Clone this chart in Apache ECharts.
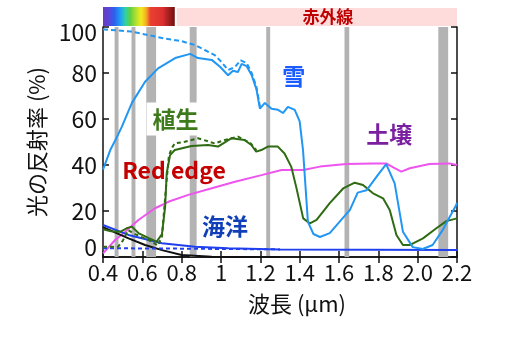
<!DOCTYPE html>
<html><head><meta charset="utf-8">
<script src="https://cdn.jsdelivr.net/npm/echarts@6/dist/echarts.min.js"></script>
<style>html,body{margin:0;padding:0;background:#fff}#c{width:508px;height:340px}</style>
</head><body><div id="c"></div>
<script>
// ---- data ----
const xTickValues = [0.4,0.6,0.8,1.0,1.2,1.4,1.6,1.8,2.0,2.2];
const xTickLabels = ['0.4','0.6','0.8','1','1.2','1.4','1.6','1.8','2.0','2.2'];
const yTickLabels = ['0','20','40','60','80','100'];
const bands = [[0.459,0.479],[0.545,0.565],[0.620,0.670],[0.841,0.876],[1.230,1.250],[1.628,1.652],[2.105,2.155]];
const snowSolid = [[0.40,38],[0.437,46.5],[0.47,52],[0.496,56.7],[0.547,67],[0.614,76.2],[0.68,82],[0.767,86.5],[0.843,88.3],[0.883,86.5],[0.953,85.7],[0.995,82.7],[1.036,79],[1.061,81],[1.086,80.4],[1.105,84],[1.13,83],[1.156,79],[1.18,73],[1.198,64.5],[1.206,64],[1.223,67],[1.257,64.5],[1.29,64],[1.315,62.6],[1.34,65.3],[1.375,64],[1.40,59],[1.417,46.5],[1.442,15.3],[1.47,10],[1.503,8.7],[1.553,10.4],[1.62,17],[1.655,20.4],[1.695,28],[1.74,29],[1.797,35.6],[1.84,40.4],[1.883,32],[1.925,11],[1.975,4.3],[2.026,3.5],[2.076,5.2],[2.127,11.7],[2.196,22.6],[2.2,23.5]];
const snowDashed = [[0.40,99],[0.543,98],[0.63,96.5],[0.714,95],[0.797,93.9],[0.866,92.2],[0.917,90],[0.968,87.8],[1.0,85],[1.036,81.3],[1.07,82.5],[1.10,85.5],[1.13,84.4],[1.156,80],[1.18,74],[1.198,65.5]];
const vegSolid = [[0.40,12],[0.44,11.2],[0.49,11],[0.52,12.5],[0.547,13.2],[0.58,10.4],[0.63,8.3],[0.673,6.7],[0.70,10],[0.716,21.9],[0.724,36.5],[0.741,44.3],[0.765,46.5],[0.85,48.3],[0.934,48.7],[0.985,48],[1.052,51.6],[1.12,50.9],[1.154,48.7],[1.179,45.8],[1.205,46.5],[1.238,48],[1.289,48],[1.323,45],[1.357,39.3],[1.382,30.6],[1.418,16.8],[1.452,14.6],[1.486,16.1],[1.553,23.4],[1.621,29.8],[1.68,32.3],[1.722,31.3],[1.773,27.7],[1.824,25.5],[1.858,20.4],[1.892,9.6],[1.925,5.2],[1.959,5.2],[2.027,8.1],[2.095,12.5],[2.146,15.6],[2.2,16.8]];
const vegDashed = [[0.40,4.5],[0.477,4.5],[0.50,7],[0.528,11.7],[0.55,10.5],[0.60,8.5],[0.63,7.4],[0.68,5],[0.70,9],[0.72,30],[0.735,44],[0.748,47],[0.765,49.4],[0.816,50.1],[0.883,51.6],[0.968,49.4],[1.02,50.9],[1.087,52.3],[1.15,49.5],[1.18,46.5]];
const soil = [[0.40,1.6],[0.462,7.4],[0.513,11],[0.58,16.1],[0.665,21.2],[0.732,24],[0.834,27],[0.953,29.9],[1.071,32.7],[1.206,35.6],[1.308,37.8],[1.418,37.8],[1.503,39.3],[1.638,40.4],[1.773,40.7],[1.84,40.7],[1.883,38.6],[1.917,37.1],[1.96,38.6],[2.06,40.4],[2.162,40.7],[2.2,40]];
const oceanSolid = [[0.40,13.9],[0.53,9.6],[0.70,6],[0.868,4.5],[1.037,3.8],[1.3,3.3],[2.2,3.0]];
const oceanDashed = [[0.40,3.8],[0.7,3.7],[1.0,3.5],[1.3,3.3]];
const blackLine = [[0.40,13],[0.53,8.1],[0.614,5.2],[0.70,3],[0.80,0.9],[0.953,0.1],[1.1,0],[1.3,0]];
const spectrumRange = [0.4,0.765];
const infraredRange = [0.775,2.2];
const labels = [
  {text:'雪', x:1.37, y:78.7, color:'#1a5cff', bg:null},
  {text:'植生', x:0.769, y:60, color:'#3d7a1c', bg:'#fff'},
  {text:'Red edge', x:0.761, y:37.8, color:'#c40000', bg:null},
  {text:'土壌', x:1.855, y:53.5, color:'#7a1fa0', bg:null},
  {text:'海洋', x:1.02, y:13.5, color:'#1040b8', bg:null}
];
// ---- chart ----
const FONT = '"Noto Sans CJK JP","Noto Sans",sans-serif';
const chart = echarts.init(document.getElementById('c'));
function line(data, color, dashed, width){
  return {type:'line', data:data, showSymbol:false, symbol:'none', smooth:false, z:3,
    lineStyle:{color:color, width:width||2, type: dashed ? dashed : 'solid'}, silent:true};
}
const series = [
  {type:'line', data:[], markArea:{silent:true, itemStyle:{color:'#b3b3b3'}, data: bands.map(b=>[{xAxis:b[0]},{xAxis:b[1]}])}},
  line(soil,'#ee55ee',null,2),
  line(blackLine,'#111111',null,2),
  line(oceanSolid,'#2040f0',null,2),
  line(oceanDashed,'#2040f0',[4,3],2),
  line(vegDashed,'#2f6b12',[4,3],2),
  line(vegSolid,'#2f6b12',null,2),
  line(snowDashed,'#2196f3',[5,3],2),
  line(snowSolid,'#2196f3',null,2)
];
const labStyle = {fontSize:23, color:'#111', fontFamily:FONT};
const option = {
  animation:false,
  grid:{left:103, right:51, top:27, bottom:83, containLabel:false},
  xAxis:[{type:'value', min:0.4, max:2.2, interval:0.2,
    axisLine:{lineStyle:{color:'#111', width:1.5}},
    axisTick:{inside:true, length:6, lineStyle:{color:'#111', width:1.5}},
    splitLine:{show:false},
    axisLabel:{fontSize:22, color:'#111', fontFamily:FONT, margin:5,
      formatter:v=>{const i=xTickValues.findIndex(t=>Math.abs(t-v)<1e-6); return i>=0?xTickLabels[i]:'';}},
    name:'波長 (μm)', nameLocation:'middle', nameGap:36,
    nameTextStyle:{fontSize:22, color:'#111', fontFamily:FONT, padding:[0,0,0,34]}},
   {type:'value', position:'top', min:0.4, max:2.2, interval:0.2,
    axisLine:{lineStyle:{color:'#111', width:1.5}},
    axisTick:{inside:true, length:6, lineStyle:{color:'#111', width:1.5}},
    axisLabel:{show:false}, splitLine:{show:false}}],
  yAxis:[{type:'value', min:0, max:100, interval:20,
    axisLine:{show:true, lineStyle:{color:'#111', width:1.5}},
    axisTick:{show:true, inside:true, length:6, lineStyle:{color:'#111', width:1.5}},
    splitLine:{show:false},
    axisLabel:{fontSize:23, color:'#111', fontFamily:FONT, margin:6,
      formatter:v=>{const s=yTickLabels[Math.round(v/20)]; if(v>=100) return '{t|'+s+'}'; if(v<=0) return '{b|'+s+'}'; return s;},
      rich:{t:Object.assign({padding:[10,0,0,0]},labStyle), b:Object.assign({padding:[0,0,20,0]},labStyle)}},
    name:'光の反射率 (%)', nameLocation:'middle', nameGap:49, nameRotate:90,
    nameTextStyle:{fontSize:22, color:'#111', fontFamily:FONT}},
   {type:'value', position:'right', min:0, max:100, interval:20,
    axisLine:{show:true, lineStyle:{color:'#111', width:1.5}},
    axisTick:{show:true, inside:true, length:6, lineStyle:{color:'#111', width:1.5}},
    axisLabel:{show:false}, splitLine:{show:false}}],
  series: series
};
chart.setOption(option);
function px(x,y){ return chart.convertToPixel({xAxisIndex:0, yAxisIndex:0},[x,y]); }
const topY = px(0.4,100)[1];
const sp0 = px(spectrumRange[0],0)[0], sp1 = px(spectrumRange[1],0)[0];
const ir0 = px(infraredRange[0],0)[0], ir1 = px(infraredRange[1],0)[0];
const graphics = [
  {type:'rect', shape:{x:sp0, y:topY-20, width:sp1-sp0, height:19}, z:10,
   style:{fill:new echarts.graphic.LinearGradient(0,0,1,0,[
     {offset:0,color:'#6a3cc0'},{offset:0.09,color:'#5448dc'},{offset:0.16,color:'#2a62f0'},
     {offset:0.25,color:'#20a4f0'},{offset:0.31,color:'#30d0a8'},{offset:0.38,color:'#60d040'},
     {offset:0.46,color:'#b4e030'},{offset:0.53,color:'#f2ea20'},{offset:0.6,color:'#f2b020'},
     {offset:0.66,color:'#ea4030'},{offset:0.83,color:'#dc3030'},{offset:0.9,color:'#b02222'},{offset:1,color:'#701010'}])}},
  {type:'rect', shape:{x:ir0, y:topY-19, width:ir1-ir0, height:18}, z:10, style:{fill:'#ffdcdc'}},
  {type:'text', x:(ir0+ir1)/2+11, y:topY-10, z:11,
   style:{text:'赤外線', fill:'#c00000', font:'bold 17px '+FONT, align:'center', verticalAlign:'middle'}}
];
labels.forEach(l=>{
  const p = px(l.x,l.y);
  graphics.push({type:'text', x:p[0], y:p[1], z:20,
    style:{text:l.text, fill:l.color, font:'bold 23px '+FONT, align:'center', verticalAlign:'middle',
      backgroundColor:l.bg||'transparent', padding:l.bg?[5,6]:0}});
});
chart.setOption({graphic:graphics});
</script></body></html>
